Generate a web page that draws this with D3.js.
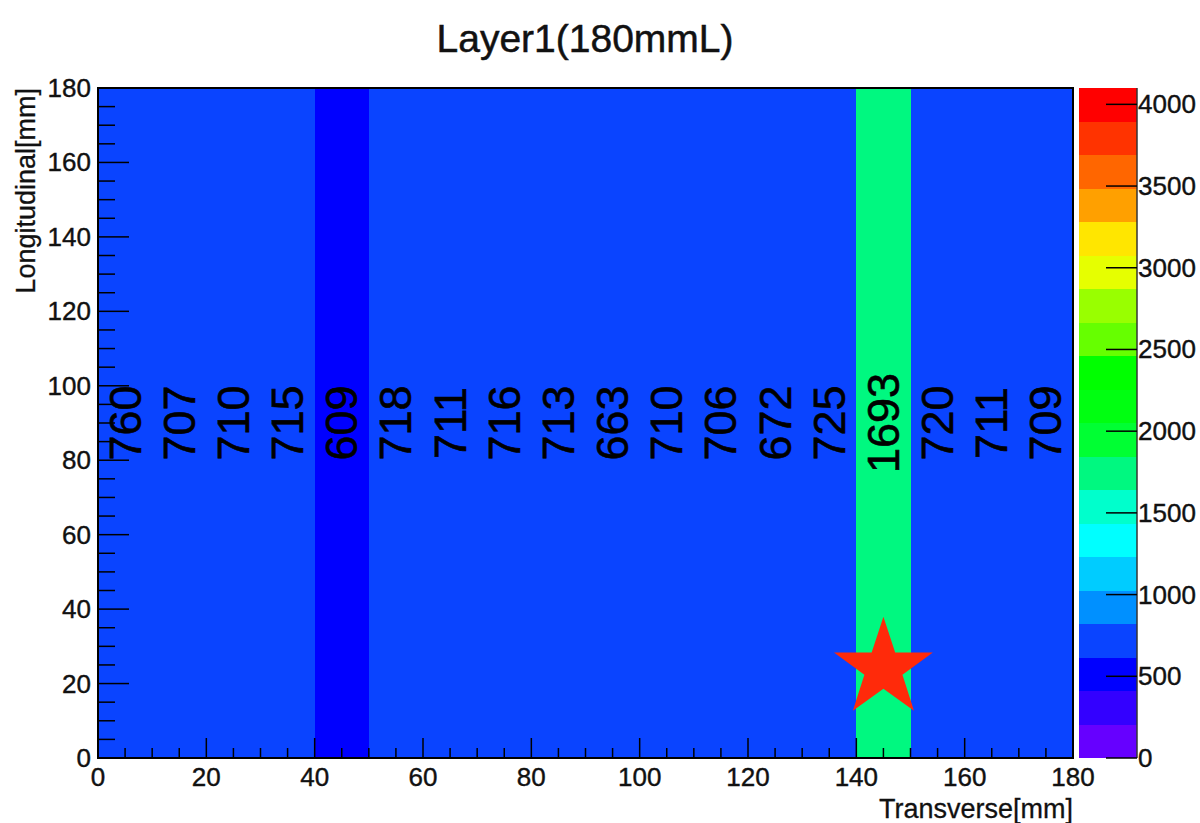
<!DOCTYPE html>
<html>
<head>
<meta charset="utf-8">
<script src="https://cdn.jsdelivr.net/npm/d3@7"></script>
<style>
  body { margin: 0; background: #fff; }
  svg { display: block; font-family: "Liberation Sans", Arial, Helvetica, sans-serif; }
</style>
</head>
<body>
<svg id="chart" width="1200" height="823"></svg>
<script>
// ---- data ----
const title = "Layer1(180mmL)";
const xTitle = "Transverse[mm]";
const yTitle = "Longitudinal[mm]";
const binEdgesX = [0, 10, 20, 30, 40, 50, 60, 70, 80, 90, 100, 110, 120, 130, 140, 150, 160, 170, 180];
const binEdgesY = [0, 180];
const cellValues = [760, 707, 710, 715, 609, 718, 711, 716, 713, 663, 710, 706, 672, 725, 1693, 720, 711, 709];
const xTicks = [0, 20, 40, 60, 80, 100, 120, 140, 160, 180];
const yTicks = [0, 20, 40, 60, 80, 100, 120, 140, 160, 180];
const zTicks = [0, 500, 1000, 1500, 2000, 2500, 3000, 3500, 4000];
const zMax = 4100;
const paletteColors = ["#6600ff", "#3300ff", "#0000ff", "#0a44ff", "#0090ff", "#00ccff", "#00ffff", "#00ffcc",
  "#00f880", "#00ff33", "#00ff11", "#00ff00", "#66ff00", "#99ff00", "#e6ff00", "#ffe600", "#ffa000", "#ff6600", "#ff3300", "#ff0000"];
const starPoint = { x: 145, y: 24 };

// ---- layout ----
const svg = d3.select("#chart");
const L = 98, R = 1073, T = 88, B = 758;
const x = d3.scaleLinear().domain([0, 180]).range([L, R]);
const y = d3.scaleLinear().domain([0, 180]).range([B, T]);
const nCont = paletteColors.length;
const zBand = d3.scaleQuantize().domain([0, zMax]).range(d3.range(nCont));
const colorOf = v => paletteColors[zBand(v)];

// cells
const cells = cellValues.map((v, i) => ({ x0: binEdgesX[i], x1: binEdgesX[i + 1], y0: binEdgesY[0], y1: binEdgesY[1], v }));
svg.append("g").selectAll("rect").data(cells).join("rect")
  .attr("x", d => x(d.x0)).attr("y", d => y(d.y1))
  .attr("width", d => x(d.x1) - x(d.x0)).attr("height", d => y(d.y0) - y(d.y1))
  .attr("fill", d => colorOf(d.v)).attr("shape-rendering", "crispEdges");

// cell text
svg.append("g").selectAll("text").data(cells).join("text")
  .attr("transform", d => `translate(${x((d.x0 + d.x1) / 2)},${y((d.y0 + d.y1) / 2)}) rotate(-90)`)
  .attr("text-anchor", "middle").attr("dominant-baseline", "central")
  .attr("font-size", 45).attr("fill", "#000").attr("stroke", "#000").attr("stroke-width", 0.6)
  .text(d => d.v);

// star marker
const starR = 52, starr = 20;
const starPts = d3.range(10).map(k => {
  const a = -Math.PI / 2 + k * Math.PI / 5;
  const r = k % 2 === 0 ? starR : starr;
  return [r * Math.cos(a), r * Math.sin(a)];
});
svg.append("path")
  .attr("d", "M" + starPts.map(p => p.join(",")).join("L") + "Z")
  .attr("transform", `translate(${x(starPoint.x)},${y(starPoint.y)})`)
  .attr("fill", "#ff2a0a");

// ticks
const g = svg.append("g").attr("stroke", "#000").attr("stroke-width", 1.5);
const minorX = d3.range(0, 181, 5);
g.selectAll(".xt").data(minorX).join("line")
  .attr("x1", d => x(d)).attr("x2", d => x(d))
  .attr("y1", B).attr("y2", d => B - (d % 20 === 0 ? 20 : 10));
g.selectAll(".yt").data(minorX).join("line")
  .attr("y1", d => y(d)).attr("y2", d => y(d))
  .attr("x1", L).attr("x2", d => L + (d % 20 === 0 ? 31 : 17));

// frame
svg.append("rect").attr("x", L).attr("y", T).attr("width", R - L).attr("height", B - T)
  .attr("fill", "none").attr("stroke", "#000").attr("stroke-width", 2);

// tick labels
const lab = sel => sel.attr("font-size", 26).attr("fill", "#111").attr("stroke", "#111").attr("stroke-width", 0.4);
svg.append("g").selectAll("text").data(xTicks).join("text")
  .attr("x", d => x(d)).attr("y", 786).attr("text-anchor", "middle")
  .call(lab).text(d => d);
svg.append("g").selectAll("text").data(yTicks).join("text")
  .attr("x", 91).attr("y", d => y(d) + 9).attr("text-anchor", "end")
  .call(lab).text(d => d);

// axis titles
svg.append("text").attr("x", R).attr("y", 818).attr("text-anchor", "end")
  .attr("font-size", 27).attr("fill", "#111").attr("stroke", "#111").attr("stroke-width", 0.3).text(xTitle);
svg.append("text").attr("transform", `translate(35,${T}) rotate(-90)`).attr("text-anchor", "end")
  .attr("font-size", 27).attr("fill", "#111").attr("stroke", "#111").attr("stroke-width", 0.3).text(yTitle);

// title
svg.append("text").attr("x", 585).attr("y", 52).attr("text-anchor", "middle")
  .attr("font-size", 39).attr("fill", "#111").attr("stroke", "#111").attr("stroke-width", 0.5).text(title);

// color bar
const CL = 1079, CR = 1137;
const z = d3.scaleLinear().domain([0, zMax]).range([B, T]);
const bands = d3.range(nCont).map(i => ({ lo: i * zMax / nCont, hi: (i + 1) * zMax / nCont, c: paletteColors[i] }));
svg.append("g").selectAll("rect").data(bands).join("rect")
  .attr("x", CL).attr("width", CR - CL)
  .attr("y", d => z(d.hi)).attr("height", d => z(d.lo) - z(d.hi))
  .attr("fill", d => d.c).attr("shape-rendering", "crispEdges");
svg.append("line").attr("x1", CR).attr("x2", CR).attr("y1", T).attr("y2", B)
  .attr("stroke", "#333").attr("stroke-width", 1.5);
svg.append("g").selectAll("line").data(zTicks).join("line")
  .attr("x1", CR - 31).attr("x2", CR).attr("y1", d => z(d)).attr("y2", d => z(d))
  .attr("stroke", "#000").attr("stroke-width", 1.5);
svg.append("g").selectAll("text").data(zTicks).join("text")
  .attr("x", CR + 1).attr("y", d => z(d) + 9)
  .call(lab).text(d => d);
</script>
</body>
</html>
